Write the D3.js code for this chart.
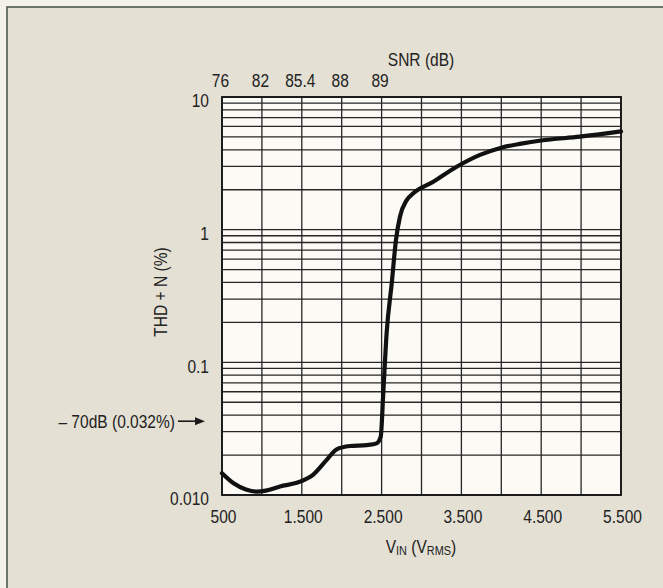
<!DOCTYPE html>
<html><head><meta charset="utf-8">
<script src="https://cdn.jsdelivr.net/npm/d3@7"></script>
<style>
body{margin:0;background:#f3f1ea}
svg{display:block}
text{font-family:"Liberation Sans",Arial,sans-serif;fill:#222}
</style></head>
<body><svg id="c" width="663" height="588"></svg>
<script>
// ---- data ----
const vin  = [500, 650, 800, 935, 1050, 1227, 1477, 1640, 1812, 1937, 2104, 2313, 2438, 2489, 2521, 2563, 2627, 2680, 2730, 2815, 2897, 3148, 3441, 3733, 4000, 4250, 4500, 4986, 5500];
const thdn = [0.0146, 0.0122, 0.0110, 0.0106, 0.0108, 0.0116, 0.0126, 0.0142, 0.0184, 0.0221, 0.0234, 0.0238, 0.0245, 0.0275, 0.0585, 0.166, 0.394, 0.836, 1.25, 1.67, 1.88, 2.30, 2.98, 3.66, 4.15, 4.45, 4.70, 5.02, 5.50];
const xTickValues = [500, 1500, 2500, 3500, 4500, 5500];
const xTickLabels = ["500", "1.500", "2.500", "3.500", "4.500", "5.500"];
const xGridValues = [500, 1000, 1500, 2000, 2500, 3000, 3500, 4000, 4500, 5000, 5500];
const snrPositions = [500, 1000, 1500, 2000, 2500];
const snrLabels = ["76", "82", "85.4", "88", "89"];
const yTickValues = [10, 1, 0.1, 0.01];
const yTickLabels = ["10", "1", "0.1", "0.010"];
const decades = [0.01, 0.1, 1];
const markerValue = 0.036;
const markerLabel = "\u2013 70dB (0.032%)";

// ---- layout ----
const svg = d3.select("#c");
const L = 222, R = 621, T = 97, B = 495;
const x = d3.scaleLinear().domain([500, 5500]).range([L, R]);
const y = d3.scaleLog().domain([0.01, 10]).range([B, T]);
const fs = 18.5, sx = 0.84;           // condensed type look
const narrow = `scale(${sx},1)`;

// background frame
svg.append("rect").attr("x", 7).attr("y", 7).attr("width", 680).attr("height", 600)
  .attr("fill", "#e4e0d4").attr("stroke", "#4d5a4b").attr("stroke-width", 1.6);

// plot background
svg.append("rect").attr("x", L).attr("y", T).attr("width", R - L).attr("height", B - T)
  .attr("fill", "#fcfaf4");

// horizontal log grid
const yGrid = [];
decades.forEach(d => { for (let k = 1; k <= 9; k++) yGrid.push(k * d); });
yGrid.push(10);
svg.append("g").selectAll("line").data(yGrid).join("line")
  .attr("x1", L).attr("x2", R)
  .attr("y1", d => y(d)).attr("y2", d => y(d))
  .attr("stroke", "#262626").attr("stroke-width", 1.3);

// vertical grid
svg.append("g").selectAll("line").data(xGridValues).join("line")
  .attr("x1", d => x(d)).attr("x2", d => x(d))
  .attr("y1", T).attr("y2", B)
  .attr("stroke", "#262626").attr("stroke-width", 1.3);

// plot border
svg.append("rect").attr("x", L).attr("y", T).attr("width", R - L).attr("height", B - T)
  .attr("fill", "none").attr("stroke", "#1a1a1a").attr("stroke-width", 1.9);

// axes (labels only)
const xAxis = d3.axisBottom(x).tickValues(xTickValues).tickSize(0).tickPadding(0)
  .tickFormat((d, i) => xTickLabels[i]);
const gx = svg.append("g").attr("transform", `translate(1,${B + 15})`).call(xAxis);
gx.select(".domain").remove();
gx.selectAll("text").attr("font-size", fs).attr("dy", "0.71em").attr("transform", narrow)
  .style("font-family", null);

const topAxis = d3.axisTop(x).tickValues(snrPositions).tickSize(0).tickPadding(0)
  .tickFormat((d, i) => snrLabels[i]);
const gt = svg.append("g").attr("transform", `translate(-2,${T - 10})`).call(topAxis);
gt.select(".domain").remove();
gt.selectAll("text").attr("font-size", fs).attr("dy", "0").attr("transform", narrow)
  .style("font-family", null);

const yAxis = d3.axisLeft(y).tickValues(yTickValues).tickSize(0).tickPadding(0)
  .tickFormat((d, i) => yTickLabels[i]);
const gy = svg.append("g").attr("transform", `translate(${L - 13},4)`).call(yAxis);
gy.select(".domain").remove();
gy.selectAll("text").attr("font-size", fs).attr("transform", narrow).style("font-family", null);

// titles
svg.append("g").attr("transform", `translate(421,66) ${narrow}`)
  .append("text").attr("text-anchor", "middle").attr("font-size", fs).text("SNR (dB)");

svg.append("g").attr("transform", `translate(167,292) rotate(-90) ${narrow}`)
  .append("text").attr("text-anchor", "middle").attr("font-size", fs).text("THD + N (%)");

const xl = svg.append("g").attr("transform", `translate(421,553) ${narrow}`)
  .append("text").attr("text-anchor", "middle").attr("font-size", fs);
xl.append("tspan").text("V");
xl.append("tspan").attr("font-size", 13).attr("dy", 2).text("IN");
xl.append("tspan").attr("dy", -2).text(" (V");
xl.append("tspan").attr("font-size", 13).attr("dy", 2).text("RMS");
xl.append("tspan").attr("dy", -2).text(")");

// -70 dB marker
const my = y(markerValue);
svg.append("g").attr("transform", `translate(175,${my}) ${narrow}`)
  .append("text").attr("dy", "0.35em").attr("text-anchor", "end").attr("font-size", fs)
  .text(markerLabel);
svg.append("line").attr("x1", 178).attr("x2", 196).attr("y1", my).attr("y2", my)
  .attr("stroke", "#1a1a1a").attr("stroke-width", 1.6);
svg.append("path").attr("d", `M195,${my - 4}L205,${my}L195,${my + 4}Z`).attr("fill", "#1a1a1a");

// curve
const pts = vin.map((v, i) => [v, thdn[i]]);
const line = d3.line().x(d => x(d[0])).y(d => y(d[1])).curve(d3.curveMonotoneX);
svg.append("path").datum(pts).attr("d", line)
  .attr("fill", "none").attr("stroke", "#111").attr("stroke-width", 4.2)
  .attr("stroke-linejoin", "round").attr("stroke-linecap", "round");
</script></body></html>
